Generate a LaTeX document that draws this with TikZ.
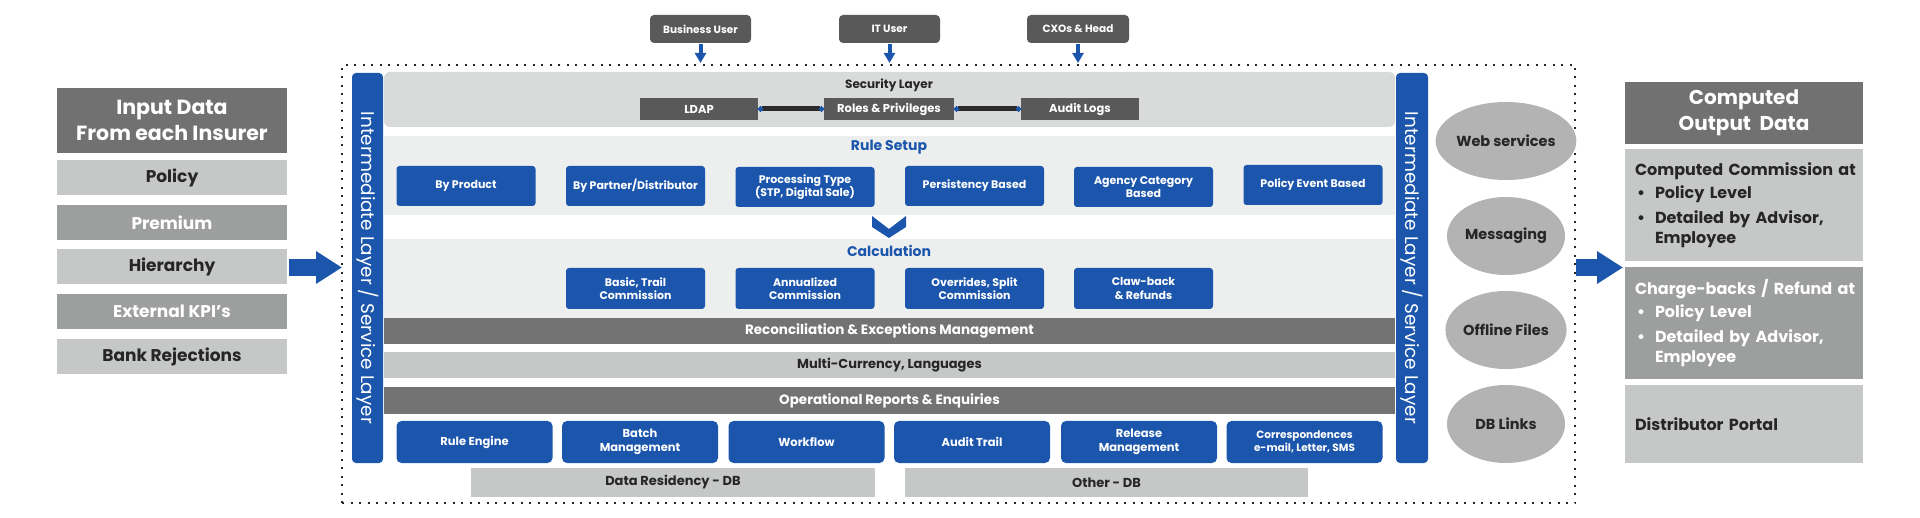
\documentclass[tikz,border=0pt]{standalone}
\usepackage{fontspec}
\setmainfont{Poppins}
\usetikzlibrary{arrows.meta,shapes.geometric}
\definecolor{cblue}{HTML}{1B56AC}
\definecolor{cdark}{HTML}{595959}
\definecolor{chead}{HTML}{717171}
\definecolor{clight}{HTML}{C6C7C7}
\definecolor{cmid}{HTML}{9D9E9E}
\definecolor{csec}{HTML}{D9DADA}
\definecolor{cpanel}{HTML}{EDEEEE}
\definecolor{cbar}{HTML}{737373}
\definecolor{cell}{HTML}{B3B3B3}
\definecolor{ctext}{HTML}{262626}
\definecolor{cline}{HTML}{2A2A2A}
\tikzset{
  box/.style={rectangle, inner sep=0pt, outer sep=0pt, align=center},
  bluebox/.style={box, fill=cblue, text=white, rounded corners=3pt, minimum width=139pt, minimum height=40pt, font=\bfseries\fontsize{11}{13.5}\selectfont},
  botbox/.style={bluebox, rounded corners=5pt, minimum width=156pt, minimum height=42pt, font=\bfseries\fontsize{11.5}{14}\selectfont},
  userbox/.style={box, fill=cdark, text=white, rounded corners=4pt, minimum width=101pt, minimum height=28pt, font=\bfseries\fontsize{10.5}{12}\selectfont},
  secbox/.style={box, fill=cdark, text=white, minimum height=22pt, font=\bfseries\fontsize{11.5}{13}\selectfont},
  panel/.style={box, minimum width=1011pt},
  bar/.style={box, minimum width=1011pt, font=\bfseries\fontsize{13.5}{15}\selectfont},
  sidebar/.style={box, fill=cblue, text=white, rounded corners=4pt, rotate=-90, minimum width=390pt, font=\fontsize{18.4}{20}\selectfont},
  inbox/.style={box, minimum width=230pt, minimum height=35pt, font=\bfseries\fontsize{17}{19}\selectfont},
  lightbox/.style={fill=clight, text=ctext},
  midbox/.style={fill=cmid, text=white},
  headbox/.style={box, fill=chead, text=white, font=\bfseries\fontsize{20.5}{26}\selectfont},
  ell/.style={ellipse, inner sep=0pt, fill=cell, minimum width=118pt, minimum height=78pt, text=ctext, font=\bfseries\fontsize{14.5}{16}\selectfont},
  outbox/.style={box, align=left, text width=218pt, inner xsep=10pt, anchor=north west, font=\bfseries\fontsize{16}{22}\selectfont},
  dbbar/.style={box, fill=clight, text=ctext, minimum height=29pt, font=\bfseries\fontsize{13}{14}\selectfont},
  frame/.style={box, draw=black!85, line width=2pt, dash pattern=on 2pt off 6.5pt},
  bigarrow/.style={draw=cblue, line width=17pt, -{Triangle[length=26pt,width=31pt,color=cblue]}},
  smallarrow/.style={draw=cblue, line width=4pt, -{Triangle[length=10pt,width=11pt,color=cblue]}},
  secline/.style={draw=cline, line width=5pt, {Circle[length=5pt,width=5pt,color=cblue]}-{Circle[length=5pt,width=5pt,color=cblue]}},
  paneltitle/.style={box, font=\bfseries\fontsize{14}{15}\selectfont}
}
\newcommand\bul{\makebox[20pt][l]{\hspace{2pt}\textbullet}}
\begin{document}
\begin{tikzpicture}[x=1pt,y=-1pt]
\useasboundingbox (0,0) rectangle (1920,518);

% dotted frame
\node[frame, minimum width=1233pt, minimum height=438pt] (frame) at (958.5,284) {};

% input column
\node[headbox, minimum width=230pt, minimum height=65pt] (inhead) at (172,120.5) {Input Data\\From each Insurer};
\node[inbox, lightbox] (policy) at (172,178) {Policy};
\node[inbox, midbox] (premium) at (172,222.5) {Premium};
\node[inbox, lightbox] (hier) at (172,267) {Hierarchy};
\node[inbox, midbox] (kpi) at (172,311.5) {External KPI’s};
\node[inbox, lightbox] (bank) at (172,356.5) {Bank Rejections};

% users
\node[userbox] (bu) at (700.5,29) {Business User};
\node[userbox] (it) at (889.5,29) {IT User};
\node[userbox, minimum width=102pt] (cxo) at (1078,29) {CXOs \& Head};
\draw[smallarrow] ([yshift=-1pt]bu.south) -- ([yshift=2pt]bu.south |- frame.north);
\draw[smallarrow] ([yshift=-1pt]it.south) -- ([yshift=2pt]it.south |- frame.north);
\draw[smallarrow] ([yshift=-1pt]cxo.south) -- ([yshift=2pt]cxo.south |- frame.north);

% side bars
\node[sidebar, minimum height=31pt] (lbar) at (367.5,268) {Intermediate Layer / Service Layer};
\node[sidebar, minimum height=32pt] (rbar) at (1412,268) {Intermediate Layer / Service Layer};

% security layer
\node[panel, fill=csec, rounded corners=6pt, minimum height=55pt] (secp) at (889.5,99.5) {};
\node[paneltitle, text=ctext, font=\bfseries\fontsize{12}{13}\selectfont] (sect) at (889,85) {Security Layer};
\node[secbox, minimum width=118pt] (ldap) at (699,109) {LDAP};
\node[secbox, minimum width=130pt] (roles) at (889,109) {Roles \& Privileges};
\node[secbox, minimum width=118pt] (audit) at (1080,109) {Audit Logs};
\draw[secline] (ldap.east) -- (roles.west);
\draw[secline] (roles.east) -- (audit.west);

% rule setup
\node[panel, fill=cpanel, minimum height=79pt] (rulep) at (889.5,175.5) {};
\node[paneltitle, text=cblue] (rulet) at (889,147) {Rule Setup};
\node[bluebox] (r1) at (466,186) {By Product};
\node[bluebox] (r2) at (635.5,186) {By Partner/Distributor};
\node[bluebox] (r3) at (805,187) {Processing Type\\(STP, Digital Sale)};
\node[bluebox] (r4) at (974.5,186) {Persistency Based};
\node[bluebox] (r5) at (1143.5,187) {Agency Category\\Based};
\node[bluebox] (r6) at (1313,185) {Policy Event Based};

% chevron
\fill[cblue] (872,216) -- (889,229) -- (906,216) -- (906,227) -- (889,238) -- (872,227) -- cycle;

% calculation
\node[panel, fill=cpanel, minimum height=79pt] (calcp) at (889.5,278.5) {};
\node[paneltitle, text=cblue] (calct) at (889,251) {Calculation};
\node[bluebox, minimum height=41pt] (c1) at (635.5,288.5) {Basic, Trail\\Commission};
\node[bluebox, minimum height=41pt] (c2) at (805,288.5) {Annualized\\Commission};
\node[bluebox, minimum height=41pt] (c3) at (974.5,288.5) {Overrides, Split\\Commission};
\node[bluebox, minimum height=41pt] (c4) at (1143.5,288.5) {Claw-back\\\& Refunds};

% bars
\node[bar, fill=cbar, text=white, minimum height=26pt] (recon) at (889.5,331) {Reconciliation \& Exceptions Management};
\node[bar, fill=clight, text=ctext, minimum height=26pt, font=\bfseries\fontsize{13}{14}\selectfont] (multi) at (889.5,365) {Multi-Currency, Languages};
\node[bar, fill=cbar, text=white, minimum height=27pt] (oper) at (889.5,400.5) {Operational Reports \& Enquiries};

% bottom boxes
\node[botbox] (b1) at (474.5,442) {Rule Engine};
\node[botbox] (b2) at (640,442) {Batch\\Management};
\node[botbox] (b3) at (806.5,442) {Workflow};
\node[botbox] (b4) at (972,442) {Audit Trail};
\node[botbox] (b5) at (1139,442) {Release\\Management};
\node[botbox, font=\bfseries\fontsize{10.5}{13.5}\selectfont] (b6) at (1304.5,442) {Correspondences\\e-mail, Letter, SMS};

% db bars
\node[dbbar, minimum width=404pt] (dres) at (673,482.5) {Data Residency - DB};
\node[dbbar, minimum width=403pt] (odb) at (1106.5,482.5) {Other - DB};

% ellipses
\node[ell] (e1) at (1506,141) {Web services};
\node[ell] (e2) at (1506,236) {Messaging};
\node[ell] (e3) at (1506,330) {Offline Files};
\node[ell] (e4) at (1506,424) {DB Links};

% output column
\node[headbox, minimum width=238pt, minimum height=62pt, font=\bfseries\fontsize{20}{26}\selectfont] (outhead) at (1744,113) {Computed\\Output~~Data};
\node[outbox, lightbox, minimum height=112pt, text=ctext] (cc) at (1625,149) {\mbox{Computed Commission at}\\[1pt]
\mbox{\bul Policy Level}\\[3pt]
\mbox{\bul Detailed by Advisor,}\\[-2pt]
\hspace*{20pt}Employee};
\node[outbox, midbox, minimum height=112pt, text=white] (cb) at (1625,267) {\mbox{Charge-backs / Refund at}\\[1pt]
\mbox{\bul Policy Level}\\[3pt]
\mbox{\bul Detailed by Advisor,}\\[-2pt]
\hspace*{20pt}Employee};
\node[outbox, lightbox, minimum height=78pt, text=ctext] (dp) at (1625,385) {Distributor Portal};

% big arrows
\coordinate (ay) at (0,267.5);
\draw[bigarrow] ([xshift=2pt]hier.east |- ay) -- (frame.west |- ay);
\draw[bigarrow] ([xshift=1pt]frame.east |- ay) -- ([xshift=-2pt]cc.west |- ay);
\end{tikzpicture}
\end{document}
